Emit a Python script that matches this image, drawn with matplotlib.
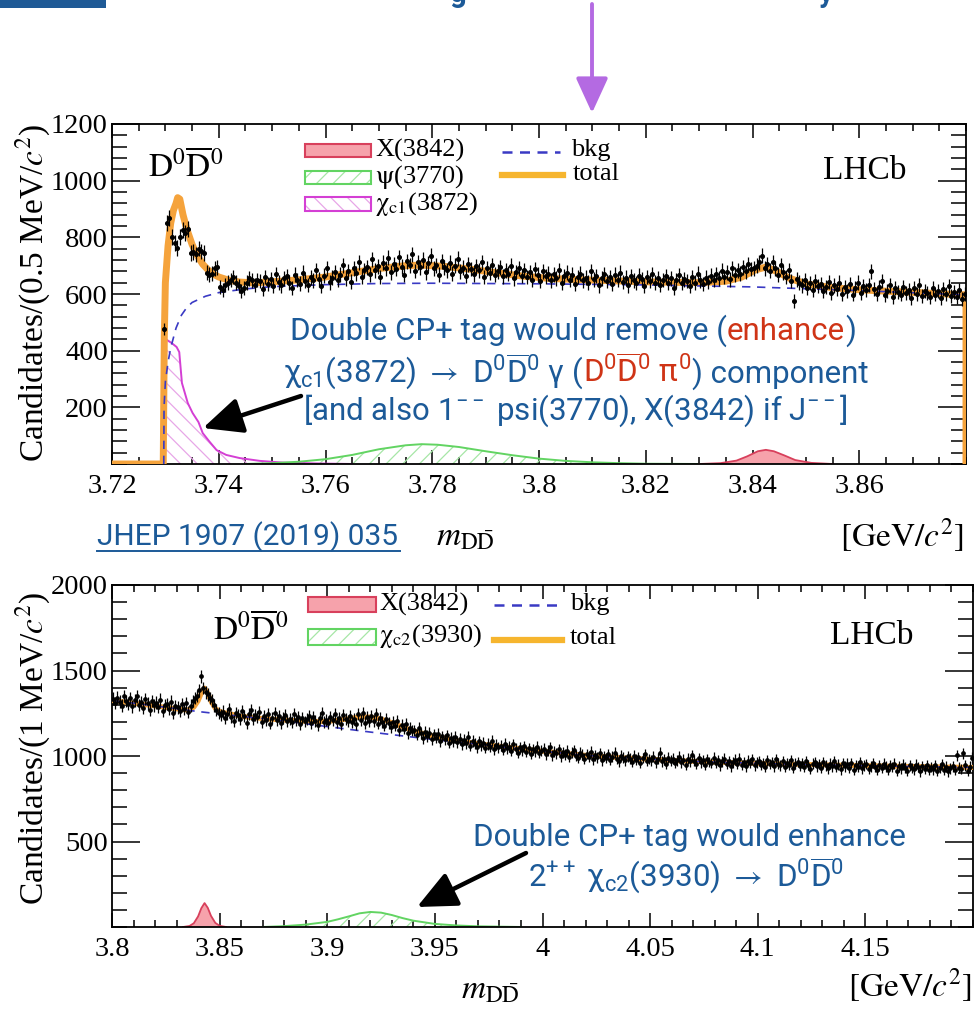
import numpy as np
import matplotlib
matplotlib.use("Agg")
import matplotlib.pyplot as plt
from matplotlib.ticker import MultipleLocator, FixedLocator, FuncFormatter
from matplotlib.offsetbox import TextArea, HPacker, AnnotationBbox
from matplotlib.patches import Rectangle, FancyArrowPatch
from matplotlib.lines import Line2D

# ===================== DATA =====================
# ---- top panel: 0.5 MeV bins ----
top_bin_start = 3.7295
top_bin_width = 0.0005
top_counts = [
    476, 850, 868, 800, 780, 762, 800, 825, 815, 830, 745, 748, 740, 760, 750, 745, 675, 668,
    672, 690, 695, 624, 614, 632, 640, 650, 660, 640, 628, 612, 622, 640, 655, 648, 632, 650,
    645, 618, 660, 636, 652, 628, 671, 641, 630, 655,
    662, 640, 622, 668, 650, 637, 675, 646, 631, 659,
    648, 684, 652, 627, 665, 690, 641, 658, 676, 650,
    668, 702, 655, 680, 644, 690, 673, 712, 661, 685,
    695, 670, 722, 684, 698, 660, 710, 690, 728, 676,
    705, 688, 730, 697, 668, 715, 702, 740, 681, 712,
    694, 720, 676, 708, 735, 690, 702, 668, 716, 695,
    684, 710, 672, 700, 725, 680, 692, 665, 705, 688,
    670, 698, 684, 712, 660, 690, 675, 702, 668, 680,
    695, 662, 684, 672, 700, 655, 678, 690, 664, 685,
    660, 676, 650, 688, 668, 645, 680, 662, 672, 648,
    670, 655, 684, 640, 662, 675, 650, 668, 636, 660,
    672, 648, 658, 640, 680, 652, 664, 630, 655, 670,
    645, 660, 636, 668, 650, 675, 642, 658, 630, 662,
    648, 638, 665, 652, 628, 660, 645, 670, 640, 655,
    632, 650, 662, 640, 655, 620, 648, 666, 638, 652,
    645, 628, 660, 640, 672, 648, 635, 658, 642, 665,
    650, 670, 655, 682, 660, 676, 652, 690, 668, 684,
    672, 695, 680, 705, 688, 690, 700, 712, 735, 690,
    705, 682, 712, 690, 668, 702, 676, 660, 684, 645,
    575, 652, 640, 630, 648, 622, 638, 615, 645, 628,
    636, 610, 625, 642, 604, 630, 618, 640, 600, 626,
    612, 635, 598, 622, 640, 605, 628, 615, 632, 680,
    618, 600, 625, 645, 596, 612, 630, 590, 620, 608,
    598, 625, 605, 615, 585, 620, 600, 632, 592, 610,
    605, 588, 622, 598, 612, 585, 618, 600, 628, 594,
    606, 590, 615, 582, 600,
]
top_total_x = [3.7200, 3.7296, 3.7298, 3.7300, 3.7305, 3.7310, 3.7315, 3.7320, 3.7323, 3.7327,
               3.7333, 3.7340, 3.7350, 3.7360, 3.7370, 3.7380, 3.7390, 3.7400, 3.7420, 3.7440,
               3.7460, 3.7480, 3.7500, 3.7550, 3.7600, 3.7650, 3.7700, 3.7750, 3.7780, 3.7820,
               3.7870, 3.7920, 3.7970, 3.8020, 3.8080, 3.8150, 3.8220, 3.8300, 3.8350, 3.8380,
               3.8405, 3.8425, 3.8445, 3.8470, 3.8500, 3.8550, 3.8600, 3.8650, 3.8700, 3.8750,
               3.8800, 3.8800]
top_total_y = [0, 0, 450, 640, 770, 850, 895, 920, 940, 935,
               880, 830, 775, 735, 705, 685, 670, 660, 648, 642,
               640, 641, 643, 650, 660, 675, 690, 700, 702, 698,
               688, 675, 663, 655, 650, 646, 642, 640, 645, 660,
               685, 695, 680, 655, 636, 622, 615, 610, 606, 601,
               597, 0]
top_bkg_x = [3.7297, 3.72975, 3.7300, 3.7305, 3.7310, 3.7320, 3.7330, 3.7340, 3.7350, 3.7375,
             3.7400, 3.7450, 3.7500, 3.7600, 3.7700, 3.7800, 3.8000, 3.8200, 3.8400, 3.8600, 3.8800]
top_bkg_y = [0, 200, 290, 360, 410, 480, 525, 552, 570, 592,
             605, 618, 626, 633, 637, 638, 636, 632, 625, 612, 597]
top_chic1_x = [3.7297, 3.7297, 3.7301, 3.7311, 3.7321, 3.7326, 3.7331, 3.7342, 3.7351, 3.7362,
               3.7370, 3.7383, 3.7396, 3.7414, 3.7439, 3.7477, 3.7520, 3.7580, 3.7650]
top_chic1_y = [0, 448, 440, 428, 413, 395, 286, 215, 180, 148,
               109, 78, 49, 32, 21, 11, 5, 2, 0]
top_psi_x = [3.745, 3.750, 3.755, 3.760, 3.765, 3.770, 3.775, 3.778, 3.781, 3.785,
             3.790, 3.795, 3.800, 3.805, 3.810, 3.815, 3.820, 3.830]
top_psi_y = [0, 3, 8, 17, 32, 52, 66, 70, 68, 60, 45, 31, 19, 11, 6, 3, 1, 0]
top_x3842_x = [3.830, 3.834, 3.837, 3.839, 3.841, 3.8425, 3.844, 3.846, 3.848, 3.851, 3.855]
top_x3842_y = [0, 3, 12, 27, 45, 50, 45, 30, 14, 4, 0]

# ---- bottom panel: 1 MeV bins ----
bot_bin_start = 3.800
bot_bin_width = 0.001
bot_counts = [
    1335, 1310, 1342, 1318, 1295, 1350, 1322, 1305, 1338, 1290,
    1325, 1348, 1300, 1315, 1280, 1332, 1308, 1270, 1322, 1296,
    1312, 1285, 1330, 1262, 1298, 1305, 1276, 1318, 1250, 1290,
    1284, 1265, 1302, 1275, 1310, 1258, 1295, 1320, 1338, 1350,
    1385, 1465, 1398, 1372, 1360, 1340, 1325, 1296, 1268, 1250,
    1238, 1260, 1222, 1248, 1275, 1230, 1205, 1252, 1240, 1218,
    1262, 1235, 1195, 1248, 1270, 1215, 1240, 1228, 1255, 1200,
    1232, 1210, 1245, 1190, 1225, 1252, 1208, 1236, 1195, 1222,
    1240, 1205, 1218, 1198, 1245, 1212, 1230, 1188, 1222, 1202,
    1215, 1236, 1195, 1228, 1205, 1180, 1222, 1250, 1198, 1210,
    1195, 1230, 1212, 1245, 1200, 1222, 1188, 1240, 1215, 1205,
    1232, 1198, 1218, 1185, 1245, 1210, 1252, 1195, 1228, 1202,
    1235, 1205, 1248, 1190, 1222, 1200, 1178, 1215, 1192, 1170,
    1200, 1178, 1205, 1150, 1182, 1160, 1185, 1135, 1162, 1148,
    1150, 1125, 1162, 1132, 1105, 1142, 1118, 1136, 1098, 1126,
    1108, 1130, 1085, 1115, 1098, 1120, 1078, 1105, 1088, 1112,
    1082, 1100, 1068, 1095, 1075, 1110, 1060, 1088, 1072, 1050,
    1085, 1062, 1078, 1048, 1070, 1055, 1090, 1040, 1065, 1052,
    1060, 1038, 1072, 1045, 1055, 1030, 1068, 1042, 1020, 1050,
    1035, 1058, 1025, 1045, 1012, 1040, 1028, 1055, 1018, 1032,
    1042, 1010, 1030, 1052, 1005, 1025, 1015, 1040, 998, 1022,
    1008, 1030, 995, 1018, 1035, 1002, 990, 1020, 1008, 985,
    1012, 995, 1025, 980, 1005, 992, 1015, 975, 1000, 988,
    1010, 978, 995, 1020, 985, 968, 1002, 990, 975, 998,
    985, 965, 1002, 978, 992, 960, 988, 1012, 970, 982,
    975, 995, 962, 985, 1020, 968, 980, 955, 990, 972,
    985, 958, 975, 995, 962, 978, 950, 985, 968, 1005,
    972, 955, 988, 962, 975, 948, 982, 965, 958, 990,
    960, 975, 945, 968, 985, 952, 970, 940, 962, 978,
    955, 985, 948, 965, 940, 972, 958, 980, 945, 962,
    970, 948, 958, 935, 975, 952, 965, 940, 982, 955,
    945, 968, 938, 960, 950, 975, 932, 955, 965, 942,
    958, 935, 970, 948, 925, 955, 965, 940, 952, 930,
    962, 945, 928, 955, 940, 968, 935, 950, 922, 958,
    940, 955, 932, 960, 920, 948, 938, 962, 928, 945,
    952, 925, 940, 958, 935, 918, 945, 930, 955, 938,
    920, 948, 935, 955, 915, 940, 928, 950, 932, 912,
    945, 930, 922, 950, 935, 910, 940, 925, 948, 918,
    935, 922, 945, 915, 930, 952, 920, 938, 910, 928,
    940, 918, 1005, 932, 925, 1015, 945, 912, 938, 990,
]
bot_total_x = [3.800, 3.810, 3.820, 3.830, 3.835, 3.838, 3.840, 3.8415, 3.843, 3.8445,
               3.846, 3.848, 3.850, 3.853, 3.860, 3.870, 3.880, 3.890, 3.900, 3.905,
               3.910, 3.915, 3.920, 3.925, 3.930, 3.935, 3.940, 3.950, 3.960, 3.970,
               3.980, 4.000, 4.020, 4.040, 4.060, 4.080, 4.100, 4.120, 4.140, 4.160,
               4.180, 4.200]
bot_total_y = [1325, 1309, 1293, 1276, 1268, 1285, 1322, 1368, 1397, 1368,
               1320, 1278, 1260, 1251, 1232, 1219, 1210, 1203, 1202, 1209,
               1218, 1228, 1228, 1216, 1195, 1170, 1147, 1114, 1091, 1072,
               1057, 1028, 1004, 987, 974, 964, 957, 951, 946, 941,
               937, 933]
bot_bkg_x = [3.800, 3.820, 3.840, 3.860, 3.880, 3.900, 3.920, 3.940, 3.960, 3.980,
             4.000, 4.020, 4.040, 4.060, 4.080, 4.100, 4.120, 4.140, 4.160, 4.180, 4.200]
bot_bkg_y = [1325, 1293, 1260, 1232, 1205, 1172, 1140, 1110, 1082, 1055,
             1028, 1004, 987, 974, 964, 957, 951, 946, 941, 937, 933]
bot_chic2_x = [3.870, 3.880, 3.890, 3.900, 3.905, 3.910, 3.915, 3.920, 3.925, 3.930,
               3.935, 3.940, 3.950, 3.960, 3.970, 3.980, 3.990]
bot_chic2_y = [0, 5, 14, 30, 45, 62, 80, 88, 84, 70, 52, 37, 18, 9, 4, 2, 0]
bot_x3842_x = [3.833, 3.836, 3.838, 3.840, 3.8415, 3.843, 3.8445, 3.846, 3.848, 3.850, 3.853]
bot_x3842_y = [0, 6, 22, 62, 110, 140, 112, 65, 24, 7, 0]

top_xticks = [3.72, 3.74, 3.76, 3.78, 3.80, 3.82, 3.84, 3.86]
top_yticks = [200, 400, 600, 800, 1000, 1200]
bot_xticks = [3.80, 3.85, 3.90, 3.95, 4.00, 4.05, 4.10, 4.15]
bot_yticks = [500, 1000, 1500, 2000]

# ===================== STYLE =====================
plt.rcParams.update({
    'font.family': ['Liberation Serif', 'DejaVu Serif'],
    'mathtext.fontset': 'stix',
    'mathtext.rm': 'Roboto',
    'mathtext.it': 'Roboto',
    'mathtext.bf': 'Roboto:bold',
    'mathtext.sf': 'Roboto',
    'mathtext.fallback': 'stixsans',
    'hatch.linewidth': 0.9,
})

C_TOTAL = '#f5a33c'
C_BKG = '#3a3ac4'
C_RED_LINE = '#d8405c'
C_RED_FILL = '#f6a2ab'
C_GREEN_LINE = '#62d462'
C_GREEN_HATCH = '#a6e6a6'
C_MAG_LINE = '#d43fd4'
C_MAG_HATCH = '#e7a6e7'
BLUE = '#1c5a98'
RED = '#cf3416'

W, H = 977.0, 1010.0
fig = plt.figure(figsize=(W / 100, H / 100), dpi=100)


def F(px, py):
    return (px / W, 1 - py / H)


ax1 = fig.add_axes([112 / W, 1 - 464 / H, (966 - 112) / W, (464 - 124) / H])
ax2 = fig.add_axes([112 / W, 1 - 927 / H, (973 - 112) / W, (927 - 585) / H])

TICK_FS = 20.5


def style_axes(ax, xlim, ylim, xticks, xminor, yticks, yminor):
    ax.set_xlim(*xlim)
    ax.set_ylim(*ylim)
    ax.xaxis.set_major_locator(FixedLocator(xticks))
    ax.xaxis.set_minor_locator(MultipleLocator(xminor))
    ax.yaxis.set_major_locator(FixedLocator(yticks))
    ax.yaxis.set_minor_locator(MultipleLocator(yminor))
    fmt = FuncFormatter(lambda v, p: f'{v:g}')
    ax.xaxis.set_major_formatter(fmt)
    ax.yaxis.set_major_formatter(fmt)
    ax.tick_params(which='both', direction='in', top=True, right=True, width=1.1,
                   labelsize=TICK_FS, colors='black')
    ax.tick_params(axis='y', which='major', length=20, pad=3)
    ax.tick_params(axis='y', which='minor', length=11)
    ax.tick_params(axis='x', which='major', length=10, pad=7)
    ax.tick_params(axis='x', which='minor', length=5)
    for s in ax.spines.values():
        s.set_linewidth(1.3)


def draw_data(ax, start, width, counts, ms):
    counts = np.asarray(counts, dtype=float)
    centers = start + width * (np.arange(len(counts)) + 0.5)
    ax.errorbar(centers, counts, yerr=np.sqrt(counts), xerr=width / 2, fmt='o', ms=ms,
                color='black', ecolor='black', elinewidth=0.9, capsize=0, zorder=6)


def hatched(ax, x, y, hatch, hcol, lcol, lw=1.4):
    ax.fill_between(x, y, 0, facecolor='none', edgecolor=hcol, hatch=hatch, linewidth=0, zorder=2)
    ax.plot(x, y, color=lcol, lw=lw, zorder=2.5)


def filled(ax, x, y):
    ax.fill_between(x, y, 0, facecolor=C_RED_FILL, edgecolor='none', linewidth=0, zorder=2)
    ax.plot(x, y, color=C_RED_LINE, lw=1.3, zorder=2.5)


# ---------------- top panel ----------------
style_axes(ax1, (3.72, 3.88), (0, 1200), top_xticks, 0.005, top_yticks, 40)
hatched(ax1, top_chic1_x, top_chic1_y, '\\\\', C_MAG_HATCH, C_MAG_LINE)
hatched(ax1, top_psi_x, top_psi_y, '//', C_GREEN_HATCH, C_GREEN_LINE)
filled(ax1, top_x3842_x, top_x3842_y)
ax1.plot(top_total_x, top_total_y, color=C_TOTAL, lw=5, solid_joinstyle='round', zorder=3)
ax1.plot(top_bkg_x, top_bkg_y, color=C_BKG, lw=1.2, ls=(0, (5, 4)), zorder=4)
draw_data(ax1, top_bin_start, top_bin_width, top_counts, 2.6)

# ---------------- bottom panel ----------------
style_axes(ax2, (3.80, 4.20), (0, 2000), bot_xticks, 0.01, bot_yticks, 100)
hatched(ax2, bot_chic2_x, bot_chic2_y, '//', C_GREEN_HATCH, C_GREEN_LINE)
filled(ax2, bot_x3842_x, bot_x3842_y)
ax2.plot(bot_total_x, bot_total_y, color=C_TOTAL, lw=3.6, solid_joinstyle='round', zorder=3)
ax2.plot(bot_bkg_x, bot_bkg_y, color=C_BKG, lw=1.2, ls=(0, (5, 4)), zorder=4)
draw_data(ax2, bot_bin_start, bot_bin_width, bot_counts, 2.4)

# ---------------- axis labels / panel text ----------------
LAB_FS = 24
fig.text(*F(33, 293), r'Candidates/(0.5 MeV/$c^2$)', rotation=90, ha='center', va='center', fontsize=LAB_FS)
fig.text(*F(33, 748), r'Candidates/(1 MeV/$c^2$)', rotation=90, ha='center', va='center', fontsize=LAB_FS)
fig.text(*F(465, 537), r'$m_{\mathrm{D\bar{D}}}$', ha='center', va='center', fontsize=LAB_FS)
fig.text(*F(964, 535), r'$\left[\mathrm{GeV}/c^2\right]$', ha='right', va='center', fontsize=LAB_FS)
fig.text(*F(490, 990), r'$m_{\mathrm{D\bar{D}}}$', ha='center', va='center', fontsize=LAB_FS)
fig.text(*F(972, 985), r'$\left[\mathrm{GeV}/c^2\right]$', ha='right', va='center', fontsize=LAB_FS)

fig.text(*F(186, 167), r'$\mathrm{D}^0\overline{\mathrm{D}}^0$', ha='center', va='center', fontsize=24)
fig.text(*F(865, 171), 'LHCb', ha='center', va='center', fontsize=24)
fig.text(*F(251, 630), r'$\mathrm{D}^0\overline{\mathrm{D}}^0$', ha='center', va='center', fontsize=24)
fig.text(*F(872, 636), 'LHCb', ha='center', va='center', fontsize=24)

# ---------------- legends (drawn in figure pixels) ----------------
LEG_FS = 19


def leg_box(px0, py0, px1, py1, kind):
    x0, y0 = F(px0, py1)
    w, h = (px1 - px0) / W, (py1 - py0) / H
    if kind == 'red':
        fig.add_artist(Rectangle((x0, y0), w, h, transform=fig.transFigure, facecolor=C_RED_FILL,
                                 edgecolor=C_RED_LINE, lw=1.5))
    else:
        hcol, lcol, hatch = ((C_GREEN_HATCH, C_GREEN_LINE, '//') if kind == 'green'
                             else (C_MAG_HATCH, C_MAG_LINE, '\\\\'))
        fig.add_artist(Rectangle((x0, y0), w, h, transform=fig.transFigure, facecolor='white',
                                 edgecolor=hcol, hatch=hatch, lw=0))
        fig.add_artist(Rectangle((x0, y0), w, h, transform=fig.transFigure, facecolor='none',
                                 edgecolor=lcol, lw=1.5))


def leg_line(px0, px1, py, kind):
    (x0, y), (x1, _) = F(px0, py), F(px1, py)
    if kind == 'bkg':
        fig.add_artist(Line2D([x0, x1], [y, y], transform=fig.transFigure, color=C_BKG, lw=1.8,
                              ls=(0, (4, 3))))
    else:
        fig.add_artist(Line2D([x0, x1], [y, y], transform=fig.transFigure, color='#f6b52e', lw=4.5))


leg_box(305, 144, 371, 157, 'red')
leg_box(305, 171, 371, 184, 'green')
leg_box(305, 197, 371, 211, 'mag')
fig.text(*F(375, 150), 'X(3842)', ha='left', va='center', fontsize=LEG_FS)
fig.text(*F(375, 177), r'$\mathrm{\psi}$(3770)', ha='left', va='center', fontsize=LEG_FS)
fig.text(*F(375, 204), r'$\mathrm{\chi_{c1}}$(3872)', ha='left', va='center', fontsize=LEG_FS)
leg_line(502, 560, 152, 'bkg')
leg_line(502, 563, 175, 'total')
fig.text(*F(571, 150), 'bkg', ha='left', va='center', fontsize=LEG_FS)
fig.text(*F(573, 174), 'total', ha='left', va='center', fontsize=LEG_FS)

leg_box(308, 597, 376, 612, 'red')
leg_box(308, 629, 376, 645, 'green')
fig.text(*F(379, 604), 'X(3842)', ha='left', va='center', fontsize=LEG_FS)
fig.text(*F(379, 636), r'$\mathrm{\chi_{c2}}$(3930)', ha='left', va='center', fontsize=LEG_FS)
leg_line(494, 562, 605, 'bkg')
leg_line(494, 562, 640, 'total')
fig.text(*F(570, 604), 'bkg', ha='left', va='center', fontsize=LEG_FS)
fig.text(*F(570, 638), 'total', ha='left', va='center', fontsize=LEG_FS)

# ---------------- slide annotations ----------------
ANN_FS = 22.5
ann_props = dict(fontsize=ANN_FS, fontfamily='Roboto', math_fontfamily='custom')


def rich_line(segments, cx, cy):
    areas = [TextArea(s, textprops=dict(color=c, **ann_props)) for s, c in segments]
    box = HPacker(children=areas, pad=0, sep=0, align='baseline')
    ab = AnnotationBbox(box, F(cx, cy), xycoords='figure fraction', frameon=False,
                        box_alignment=(0.5, 0.5), pad=0)
    fig.add_artist(ab)


DD = r'D$^0\overline{\rm D}^0$'
rich_line([('Double CP+ tag would remove (', BLUE), ('enhance', RED), (')', BLUE)], 573, 331)
rich_line([(r'$\chi_{\rm c1}$(3872) $\rightarrow$ ' + DD + r' $\gamma$ (', BLUE),
           (DD + r' $\pi^0$', RED), (') component', BLUE)], 576, 372)
rich_line([(r'[and also 1$^{--}$ psi(3770), X(3842) if J$^{--}$]', BLUE)], 575, 411)
rich_line([('Double CP+ tag would enhance', BLUE)], 689, 837)
rich_line([(r'2$^{++}$ $\chi_{\rm c2}$(3930) $\rightarrow$ ' + DD, BLUE)], 686, 876)

# reference link
fig.text(*F(97, 537), 'JHEP 1907 (2019) 035', ha='left', va='center', color=BLUE,
         fontsize=21.5, fontfamily='Roboto')
fig.add_artist(Line2D([97 / W, 400 / W], [1 - 551 / H, 1 - 551 / H], transform=fig.transFigure,
                      color=BLUE, lw=1.4))


# arrows
def arrow(p0, p1, color, lw, scale):
    fig.add_artist(FancyArrowPatch(F(*p0), F(*p1), transform=fig.transFigure,
                                   arrowstyle='-|>,head_length=1.2,head_width=0.55',
                                   mutation_scale=scale, color=color, lw=lw,
                                   shrinkA=0, shrinkB=0))


arrow((301, 396), (203, 428), 'black', 3.2, 20)
arrow((526, 853), (417, 907), 'black', 3.2, 20)
arrow((592, 4), (592, 113), '#b46ae2', 2.8, 18)

# slide header remnants (cut off at the top edge: only descenders visible)
fig.add_artist(Rectangle((0, 1 - 8 / H), 106 / W, 8 / H, transform=fig.transFigure,
                         facecolor='#1f5a96', edgecolor='none'))
fig.text(458 / W, 1 - 8 / H, 'g', ha='center', va='bottom', color=BLUE, fontsize=21,
         fontfamily='Roboto', fontweight='bold')
fig.text(826 / W, 1 - 8 / H, 'y', ha='center', va='bottom', color=BLUE, fontsize=21,
         fontfamily='Roboto', fontweight='bold')

fig.savefig('out.png', dpi=100)
